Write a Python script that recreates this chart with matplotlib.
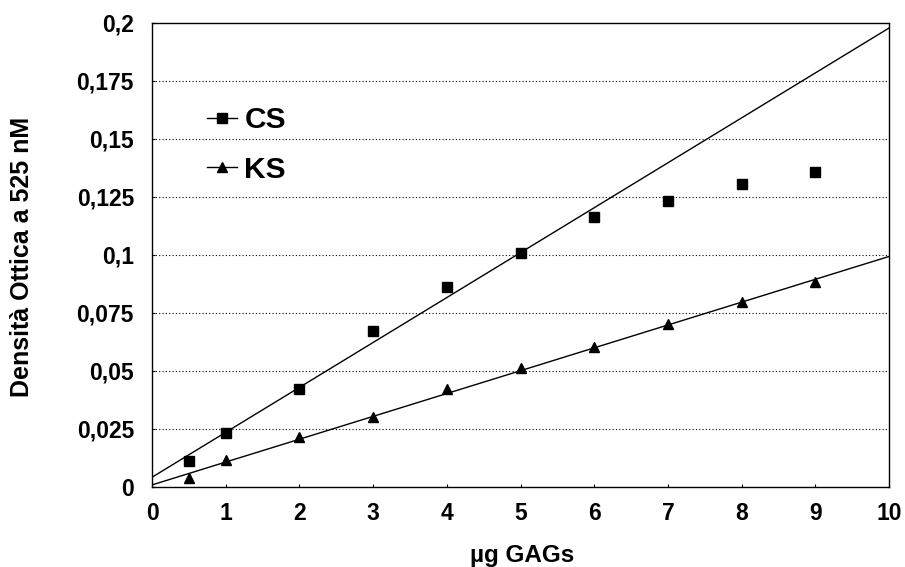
import matplotlib
matplotlib.use("Agg")
import matplotlib.pyplot as plt
from matplotlib.lines import Line2D
import numpy as np

plt.rcParams['font.family'] = ['Liberation Sans', 'DejaVu Sans']
plt.rcParams['font.weight'] = 'bold'

# Data
x_cs = [0.5, 1, 2, 3, 4, 5, 6, 7, 8, 9]
y_cs = [0.0112, 0.0233, 0.0424, 0.0674, 0.0861, 0.1007, 0.1161, 0.1231, 0.1307, 0.1356]
x_ks = [0.5, 1, 2, 3, 4, 5, 6, 7, 8, 9]
y_ks = [0.0037, 0.0116, 0.0214, 0.0303, 0.0421, 0.0513, 0.0602, 0.0700, 0.0799, 0.0885]

# Trend lines (intercept, slope)
cs_trend = (0.0042, 0.01935)
ks_trend = (0.0009, 0.00984)

x_ticks = [0, 1, 2, 3, 4, 5, 6, 7, 8, 9, 10]
y_ticks = [0, 0.025, 0.05, 0.075, 0.1, 0.125, 0.15, 0.175, 0.2]
y_tick_labels = ['0', '0,025', '0,05', '0,075', '0,1', '0,125', '0,15', '0,175', '0,2']

W, H = 905, 567
fig = plt.figure(figsize=(W / 100, H / 100), dpi=100)
ax = fig.add_axes([152 / W, (H - 487) / H, 737 / W, 464.3 / H])

xl = np.array([0, 10])
ax.plot(xl, cs_trend[0] + cs_trend[1] * xl, color='black', lw=1.0, zorder=2)
ax.plot(xl, ks_trend[0] + ks_trend[1] * xl, color='black', lw=1.0, zorder=2)

ax.plot(x_cs, y_cs, ls='none', marker='s', ms=7.5, color='black', zorder=3)
ax.plot(x_ks, y_ks, ls='none', marker='^', ms=7.5, color='black', zorder=3)

ax.set_xlim(0, 10)
ax.set_ylim(0, 0.2)
ax.set_xticks(x_ticks)
ax.set_xticklabels([str(t) for t in x_ticks], fontsize=16.5, fontweight='bold')
ax.set_yticks(y_ticks)
ax.set_yticklabels(y_tick_labels, fontsize=16.5, fontweight='bold')
ax.tick_params(axis='both', direction='in', length=2, width=0.8)
ax.tick_params(axis='y', pad=13)
ax.tick_params(axis='x', pad=11)

for yt in y_ticks[1:-1]:
    ax.axhline(yt, color='black', lw=0.8, ls=(0, (1, 2)), zorder=1)

for sp in ax.spines.values():
    sp.set_linewidth(1.0)
    sp.set_color('black')

fig.text(522 / W, 1 - 562 / H, 'µg GAGs', fontsize=17.5, fontweight='bold',
         ha='center', va='baseline')
fig.text(22 / W, 1 - 257 / H, 'Densità Ottica a 525 nM', fontsize=18, fontweight='bold',
         ha='center', va='center', rotation=90)

handles = [Line2D([0], [0], color='black', lw=1.0, marker='s', ms=7),
           Line2D([0], [0], color='black', lw=1.0, marker='^', ms=7)]
leg = ax.legend(handles, ['CS', 'KS'], loc='upper left',
                bbox_to_anchor=((207 - 152) / 737, (487 - 106) / 464.3),
                frameon=False, borderpad=0, borderaxespad=0,
                handlelength=1.0, handletextpad=0.25, labelspacing=0.72,
                prop={'family': 'Liberation Sans', 'weight': 'bold', 'size': 21.5})

fig.savefig('out.png', dpi=100, facecolor='white')
